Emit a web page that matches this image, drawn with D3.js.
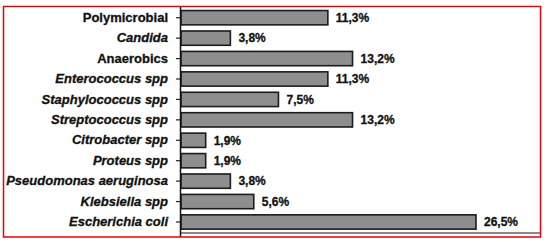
<!DOCTYPE html>
<html>
<head>
<meta charset="utf-8">
<script src="https://cdnjs.cloudflare.com/ajax/libs/d3/7.8.5/d3.min.js"></script>
<style>
  body { margin: 0; background: #fff; }
  svg { display: block; }
</style>
</head>
<body>
<div id="chart"></div>
<script>
  // categories, top to bottom
  var organisms = ["Polymicrobial", "Candida", "Anaerobics", "Enterococcus spp", "Staphylococcus spp",
                   "Streptococcus spp", "Citrobacter spp", "Proteus spp", "Pseudomonas aeruginosa",
                   "Klebsiella spp", "Escherichia coli"];
  var percents = [11.3, 3.8, 13.2, 11.3, 7.5, 13.2, 1.9, 1.9, 3.8, 5.6, 26.5];
  var upright = ["Polymicrobial", "Anaerobics"];   // everything else is a species name (italic)
  var axisMax = 22.7;  // the original axis stops here, so the largest bar gets cut off

  var width = 549, height = 242;

  var svg = d3.select("#chart").append("svg")
    .attr("width", width)
    .attr("height", height);

  var x = d3.scaleLinear()
    .domain([0, axisMax])
    .range([181, 476])
    .clamp(true);

  var y = d3.scaleBand()
    .domain(organisms)
    .range([7.5, 232.2])
    .paddingInner(0.3)
    .paddingOuter(0.15);

  var fmt = function(v) { return d3.format(".1f")(v).replace(".", ",") + "%"; };

  // bottom gray line
  svg.append("line")
    .attr("x1", 180).attr("x2", 540)
    .attr("y1", 233).attr("y2", 233)
    .attr("stroke", "#8a8a8a")
    .attr("stroke-width", 2);

  svg.selectAll("rect.bar")
    .data(percents)
    .enter().append("rect")
    .attr("class", "bar")
    .attr("x", x(0))
    .attr("y", function(d, i) { return y(organisms[i]); })
    .attr("width", function(d) { return x(d) - x(0); })
    .attr("height", y.bandwidth())
    .attr("fill", "#8e8e8e")
    .attr("stroke", "#1c1c1c")
    .attr("stroke-width", 1.6);

  svg.selectAll("text.val")
    .data(percents)
    .enter().append("text")
    .attr("class", "val")
    .attr("x", function(d) { return x(d) + 8; })
    .attr("y", function(d, i) { return y(organisms[i]) + y.bandwidth() / 2; })
    .attr("dy", "0.36em")
    .attr("font-family", "Liberation Sans, Arial, sans-serif")
    .attr("font-weight", "bold")
    .attr("font-size", "12px")
    .attr("fill", "#111")
    .attr("stroke", "#111")
    .attr("stroke-width", 0.3)
    .text(fmt);

  var yAxis = svg.append("g")
    .attr("transform", "translate(180,0)")
    .call(d3.axisLeft(y).tickSize(4).tickSizeOuter(0).tickPadding(8));

  yAxis.select(".domain").remove();
  yAxis.selectAll(".tick line").attr("stroke", "#222").attr("stroke-width", 1.2);
  yAxis.selectAll(".tick text")
    .attr("font-family", "Liberation Sans, Arial, sans-serif")
    .attr("font-weight", "bold")
    .attr("font-size", "13px")
    .attr("fill", "#111")
    .attr("stroke", "#111")
    .attr("stroke-width", 0.3)
    .attr("font-style", function(d) { return upright.indexOf(d) >= 0 ? "normal" : "italic"; });

  // vertical axis line
  svg.append("line")
    .attr("x1", 180.5).attr("x2", 180.5)
    .attr("y1", 6).attr("y2", 237)
    .attr("stroke", "#111")
    .attr("stroke-width", 1.5);

  // red frame
  svg.append("rect")
    .attr("x", 3.5).attr("y", 6.5)
    .attr("width", 537).attr("height", 230.5)
    .attr("fill", "none")
    .attr("stroke", "#e8000b")
    .attr("stroke-width", 1.5);
</script>
</body>
</html>
